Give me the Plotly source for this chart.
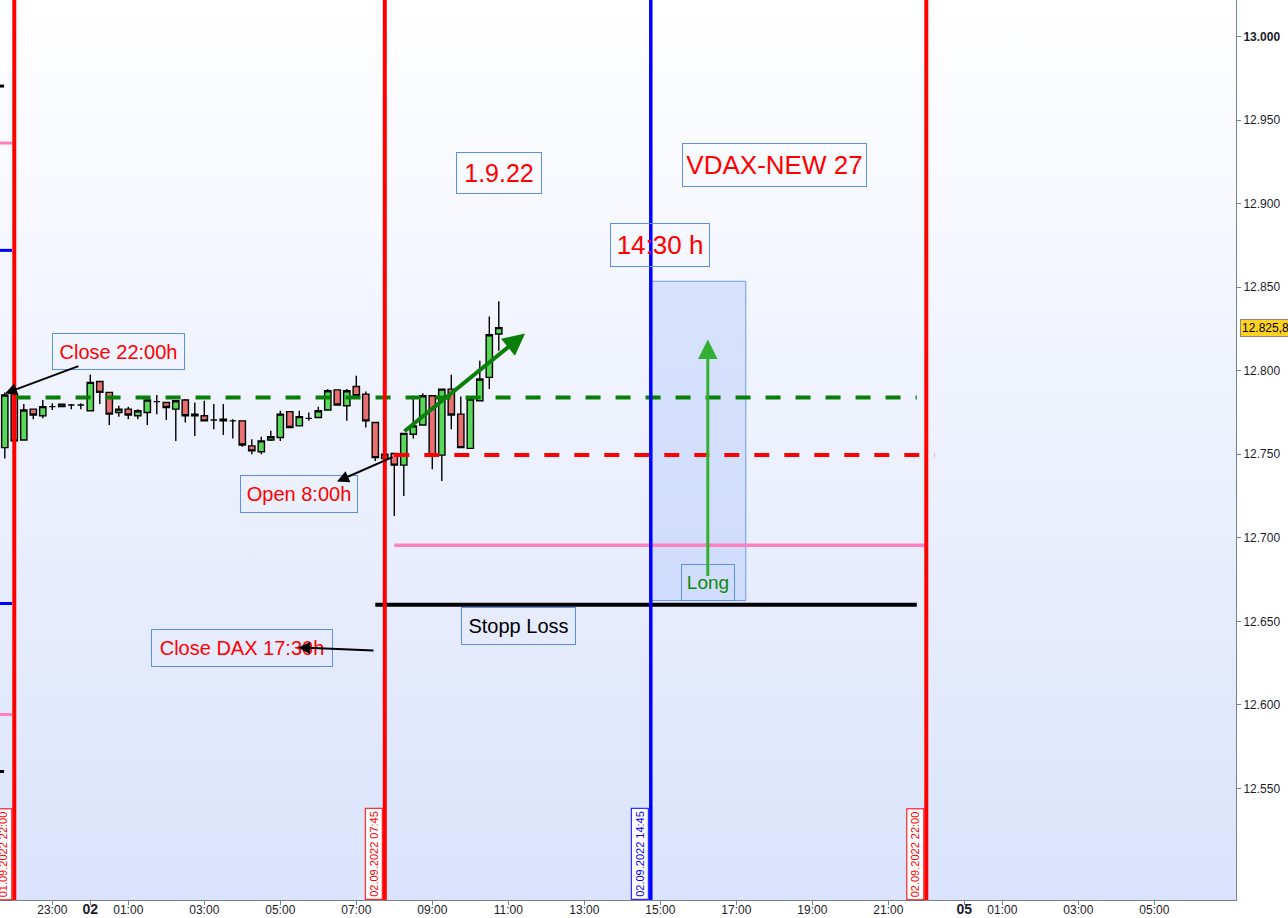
import base64
import pandas as pd
import plotly.graph_objects as go

# --- DAX 15-min candles, 01.09.2022 21:45 -> 02.09.2022 10:45 ---
start_time = "2022-09-01 21:45"
opens = [12754.0, 12786.0, 12758.5, 12777.0, 12773.0, 12778.5, 12778.5, 12779.5, 12779.5,
         12776.0, 12793.5, 12787.0, 12775.0, 12777.0, 12773.0, 12775.0, 12781.5, 12781.0,
         12777.0, 12782.5, 12773.0, 12773.0, 12770.5, 12771.0, 12770.0, 12770.0, 12755.0,
         12751.5, 12758.5, 12760.0, 12775.5, 12767.0, 12771.5, 12772.0, 12776.5, 12788.5,
         12779.0, 12790.5, 12786.0, 12769.0, 12747.5, 12750.5, 12743.5, 12762.0, 12767.5,
         12785.0, 12749.5, 12789.0, 12774.0, 12753.5, 12782.0, 12796.0, 12822.0]
highs = [12787.0, 12786.0, 12780.0, 12777.0, 12782.5, 12780.5, 12780.0, 12780.0, 12780.5,
         12797.5, 12793.5, 12787.0, 12779.0, 12778.5, 12777.0, 12782.5, 12785.5, 12781.0,
         12782.0, 12783.0, 12781.0, 12782.0, 12780.0, 12780.0, 12771.0, 12770.0, 12759.0,
         12760.5, 12764.0, 12776.0, 12775.5, 12776.0, 12775.0, 12778.5, 12789.0, 12788.5,
         12789.0, 12797.0, 12787.5, 12769.0, 12750.5, 12750.5, 12762.5, 12785.0, 12786.5,
         12785.0, 12789.0, 12797.5, 12784.5, 12783.0, 12806.0, 12832.5, 12841.5]
lows = [12747.5, 12758.0, 12758.5, 12771.0, 12771.5, 12776.5, 12778.5, 12777.0, 12777.0,
        12776.0, 12780.0, 12767.5, 12772.5, 12771.0, 12771.0, 12767.5, 12774.0, 12770.5,
        12758.0, 12769.0, 12761.0, 12770.0, 12765.0, 12761.5, 12759.5, 12754.5, 12750.0,
        12750.0, 12758.0, 12758.0, 12765.5, 12767.0, 12770.0, 12772.0, 12776.5, 12779.0,
        12770.0, 12785.0, 12766.0, 12746.0, 12747.5, 12713.0, 12725.0, 12759.5, 12767.5,
        12741.0, 12734.0, 12765.0, 12754.0, 12753.5, 12782.0, 12789.0, 12812.0]
closes = [12785.5, 12758.0, 12776.5, 12773.5, 12778.5, 12778.5, 12780.0, 12779.5, 12779.5,
          12793.0, 12787.0, 12774.0, 12777.0, 12773.5, 12776.0, 12782.5, 12781.5, 12778.0,
          12782.0, 12773.0, 12774.0, 12770.0, 12770.5, 12770.0, 12770.0, 12755.5, 12752.0,
          12758.0, 12760.5, 12774.0, 12766.0, 12772.5, 12771.5, 12776.0, 12788.0, 12779.5,
          12788.0, 12785.0, 12770.0, 12748.0, 12750.0, 12743.5, 12762.5, 12767.0, 12785.0,
          12749.5, 12789.0, 12773.5, 12754.0, 12783.0, 12795.0, 12821.5, 12825.8]
times = pd.date_range(start_time, periods=len(opens), freq="15min")

# axis ticks
tick_times = ["2022-09-01 23:00", "2022-09-02 00:00", "2022-09-02 01:00", "2022-09-02 03:00",
              "2022-09-02 05:00", "2022-09-02 07:00", "2022-09-02 09:00", "2022-09-02 11:00",
              "2022-09-02 13:00", "2022-09-02 15:00", "2022-09-02 17:00", "2022-09-02 19:00",
              "2022-09-02 21:00", "2022-09-05 00:00", "2022-09-05 01:00", "2022-09-05 03:00",
              "2022-09-05 05:00"]
day_label = "<b><span style='font-size:14px'>%s</span></b>"
tick_labels = ["23:00", day_label % "02", "01:00", "03:00", "05:00", "07:00", "09:00", "11:00",
               "13:00", "15:00", "17:00", "19:00", "21:00", day_label % "05", "01:00", "03:00",
               "05:00"]
price_ticks = [12550, 12600, 12650, 12700, 12750, 12800, 12850, 12900, 12950, 13000]

# drawn levels
close_prev = 12784.0
open_level = 12749.5
pink_level = 12695.5
stop_level = 12660.0
last_price = 12825.8

# vertical time markers: (time, color)
vlines = [("2022-09-01 22:00", "#ff0000"), ("2022-09-02 07:45", "#ff0000"),
          ("2022-09-02 14:45", "#0000ff"), ("2022-09-02 22:00", "#ff0000")]

# small level marks at the left edge: (price, color, width in paper units)
edge_marks = [(12970.3, "#000000", 0.0033), (12936.2, "#ff80c0", 0.0097),
              (12872.0, "#0000ff", 0.0097), (12660.7, "#0000ff", 0.0097),
              (12594.3, "#ff80c0", 0.0097), (12560.2, "#000000", 0.0033)]

FONT = "Liberation Sans, Arial, sans-serif"
BOX = "#5b8fe8"

fig = go.Figure()
fig.add_trace(go.Candlestick(
    x=times, open=opens, high=highs, low=lows, close=closes,
    increasing=dict(fillcolor="#58d858", line=dict(color="#000000", width=1.4)),
    decreasing=dict(fillcolor="#e87070", line=dict(color="#000000", width=1.4)),
    whiskerwidth=0, showlegend=False, hoverinfo="skip"))

shapes = []
# Long zone
shapes.append(dict(type="rect", xref="x", yref="y", x0="2022-09-02 14:45", x1="2022-09-02 17:15",
                   y0=12662.5, y1=12853.5, fillcolor="rgba(170,195,250,0.38)",
                   line=dict(color="#6d9af0", width=1), layer="above"))
shapes.append(dict(type="line", xref="x", yref="y", x0="2022-09-01 22:02", x1="2022-09-02 21:45",
                   y0=close_prev, y1=close_prev, line=dict(color="#088008", width=4, dash="15px,15px")))
shapes.append(dict(type="line", xref="x", yref="y", x0="2022-09-02 08:00", x1="2022-09-02 22:13",
                   y0=open_level, y1=open_level, line=dict(color="#ff0000", width=4, dash="15px,15px")))
shapes.append(dict(type="line", xref="x", yref="y", x0="2022-09-02 08:00", x1="2022-09-02 22:00",
                   y0=pink_level, y1=pink_level, line=dict(color="#ff80c0", width=3.5)))
shapes.append(dict(type="line", xref="x", yref="y", x0="2022-09-02 07:30", x1="2022-09-02 21:45",
                   y0=stop_level, y1=stop_level, line=dict(color="#000000", width=4)))
for t, c in vlines:
    shapes.append(dict(type="line", xref="x", yref="paper", x0=t, x1=t, y0=0, y1=1,
                       line=dict(color=c, width=4 if c == "#ff0000" else 3.5)))
for p, c, w in edge_marks:
    shapes.append(dict(type="line", xref="paper", yref="y", x0=0, x1=w, y0=p, y1=p,
                       line=dict(color=c, width=3)))

annotations = []
# text boxes: (text, x, y, width, height, size, color)
boxes = [("Close 22:00h", "2022-09-02 00:44:30", 12811.2, 131, 35, 20, "#ff0000"),
         ("1.9.22", "2022-09-02 10:45:18", 12918.0, 84, 40, 25, "#ff0000"),
         ("VDAX-NEW 27", "2022-09-02 18:00", 12922.8, 183, 42, 26, "#ff0000"),
         ("14:30 h", "2022-09-02 15:00", 12875.5, 98, 42, 26, "#ff0000"),
         ("Open 8:00h", "2022-09-02 05:29:30", 12726.5, 116, 36, 20, "#ff0000"),
         ("Close DAX 17:30h", "2022-09-02 03:59:30", 12633.8, 180, 36, 20, "#ff0000"),
         ("Stopp Loss", "2022-09-02 11:16", 12647.0, 113, 36, 20, "#000000"),
         ("Long", "2022-09-02 16:15", 12673.3, 52, 35, 19, "#118811")]
for txt, x, y, w, h, s, c in boxes:
    annotations.append(dict(text=txt, x=x, y=y, xref="x", yref="y", showarrow=False,
                            width=w, height=h, align="center", valign="middle",
                            font=dict(family=FONT, size=s, color=c),
                            bordercolor=BOX, borderwidth=1, borderpad=0))

# arrows: (tail_x, tail_y, tip_x, tip_y, color, width, size)
arrows = [("2022-09-01 23:43:40", 12803.1, "2022-09-01 21:45:20", 12786.4, "#000000", 2, 1.2),
          ("2022-09-02 07:59:30", 12748.7, "2022-09-02 06:29:30", 12733.7, "#000000", 2, 1.2),
          ("2022-09-02 07:29:30", 12632.6, "2022-09-02 05:28", 12634.4, "#000000", 2, 1.2),
          ("2022-09-02 08:13:40", 12763.0, "2022-09-02 11:26:30", 12822.3, "#0a800a", 4, 1.1),
          ("2022-09-02 16:15", 12676.3, "2022-09-02 16:15", 12818.7, "#33b033", 3, 1.3)]
for ax, ay, x, y, c, w, s in arrows:
    annotations.append(dict(text="", x=x, y=y, ax=ax, ay=ay, xref="x", yref="y",
                            axref="x", ayref="y", showarrow=True, arrowhead=2,
                            arrowsize=s, arrowwidth=w, arrowcolor=c, standoff=0))

# date labels on the vertical markers
for t, c in vlines:
    stamp = pd.Timestamp(t).strftime("%d.%m.%Y %H:%M")
    annotations.append(dict(text=stamp, x=t, y=0, xref="x", yref="paper", xanchor="right",
                            yanchor="bottom", xshift=-2, yshift=0, textangle=-90, showarrow=False,
                            font=dict(family=FONT, size=11, color=c), bgcolor="#ffffff",
                            bordercolor=c, borderwidth=1, borderpad=2))

# last price tag
annotations.append(dict(text=f"{last_price:,.1f}".replace(",", "X").replace(".", ",").replace("X", "."),
                        x=1, y=last_price, xref="paper", yref="y", xanchor="left", xshift=4,
                        showarrow=False, font=dict(family=FONT, size=12, color="#000000"),
                        bgcolor="#ffd21f", bordercolor="#8a8a8a", borderwidth=1, borderpad=1))

# vertical gradient for the plot background
svg = ('<svg xmlns="http://www.w3.org/2000/svg" width="10" height="100" viewBox="0 0 10 100" '
       'preserveAspectRatio="none"><defs><linearGradient id="g" x1="0" y1="0" x2="0" y2="1">'
       '<stop offset="0" stop-color="#ffffff"/><stop offset="1" stop-color="#dae3fb"/>'
       '</linearGradient></defs><rect width="10" height="100" fill="url(#g)"/></svg>')
bg_src = "data:image/svg+xml;base64," + base64.b64encode(svg.encode()).decode()

price_text = [f"{p:,}".replace(",", ".") for p in price_ticks]
price_text = [f"<b>{t}</b>" if p == 13000 else t for p, t in zip(price_ticks, price_text)]

fig.update_layout(
    width=1288, height=918,
    margin=dict(l=0, r=52, t=0, b=18),
    paper_bgcolor="#ffffff", plot_bgcolor="rgba(0,0,0,0)",
    font=dict(family=FONT, size=12, color="#1b1b2b"),
    boxgap=0.05, boxgroupgap=0.3,
    images=[dict(source=bg_src, xref="paper", yref="paper", x=0, y=1, sizex=1, sizey=1,
                 sizing="stretch", xanchor="left", yanchor="top", layer="below")],
    shapes=shapes, annotations=annotations, showlegend=False,
    xaxis=dict(type="date", range=["2022-09-01 21:37:26", "2022-09-05 07:09"],
               rangebreaks=[dict(bounds=["2022-09-02 23:00", "2022-09-05 00:00"])],
               rangeslider=dict(visible=False), tickmode="array", tickvals=tick_times,
               ticktext=tick_labels, ticks="outside", ticklen=4, tickcolor="#6f8595",
               showline=True, linecolor="#6f8595", linewidth=1, showgrid=False, zeroline=False,
               automargin=False, ticklabelstandoff=-5, tickfont=dict(size=12, color="#1b1b2b")),
    yaxis=dict(side="right", range=[12483.3, 13021.8], tickmode="array", tickvals=price_ticks,
               ticktext=price_text, ticks="outside", ticklen=4, tickcolor="#6f8595",
               showline=True, linecolor="#6f8595", linewidth=1, showgrid=False, zeroline=False,
               automargin=False, tickfont=dict(size=12, color="#1b1b2b")),
)

# page body margin would shift the 1288x918 figure, so drop it
fig.write_html("out.html", config={"displayModeBar": False},
               post_script="document.body.style.margin='0';")
